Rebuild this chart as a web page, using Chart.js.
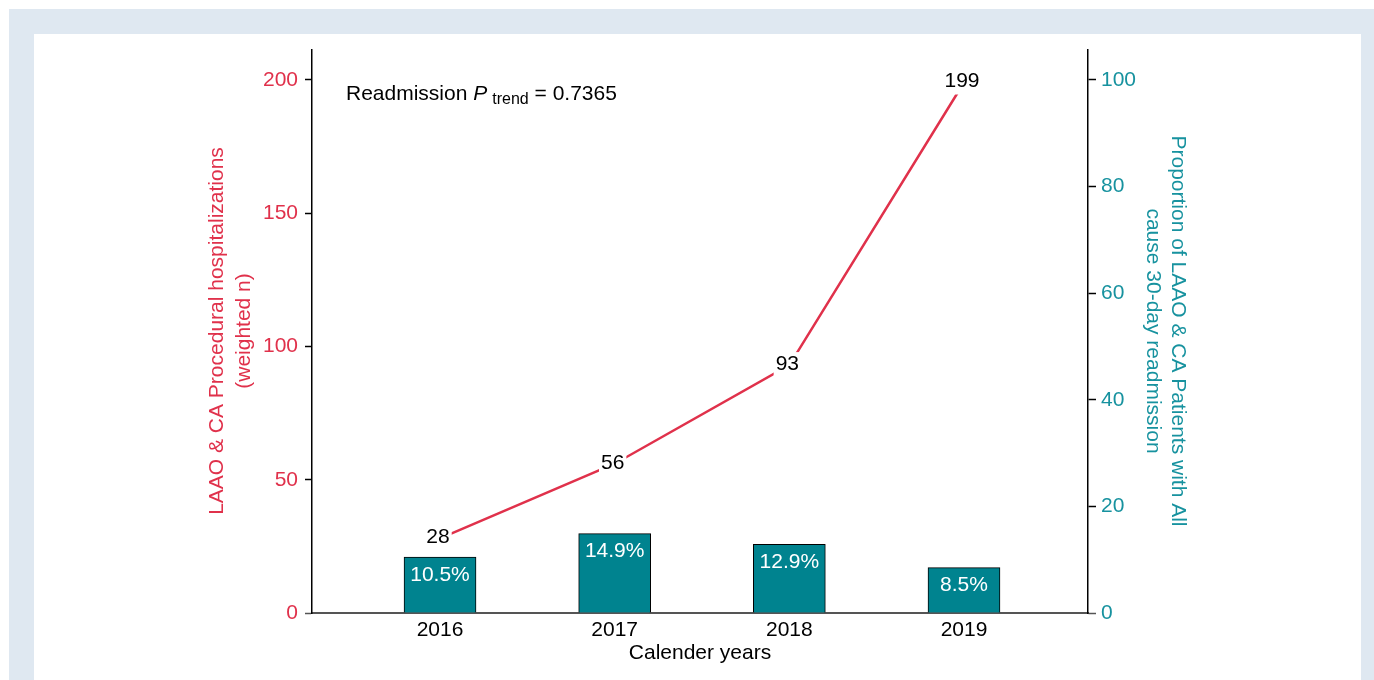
<!DOCTYPE html>
<html>
<head>
<meta charset="utf-8">
<script src="https://cdn.jsdelivr.net/npm/chart.js@4"></script>
<style>
  html,body{margin:0;padding:0;background:#fff;}
  #outer{position:absolute;left:9px;top:9px;width:1365px;height:671px;background:#dfe8f1;}
  #inner{position:absolute;left:34px;top:34px;width:1327px;height:646px;background:#fff;}
  #wrap{position:absolute;left:0;top:0;width:1374px;height:680px;}
</style>
</head>
<body>
<div id="outer"></div>
<div id="inner"></div>
<div id="wrap"><canvas id="c" width="1374" height="680"></canvas></div>
<script>
const years = ['2016', '2017', '2018', '2019'];
const hospitalizations = [28, 56, 93, 199];
const readmissionPct = [10.5, 14.9, 12.9, 8.5];
const leftTitle = ['LAAO & CA Procedural hospitalizations', '(weighted n)'];
const rightTitle = ['Proportion of LAAO & CA Patients with All', 'cause 30-day readmission'];
const xTitle = 'Calender years';

const RED = '#E0314B';
const TEAL = '#17929F';
const BAR = '#00838F';
const FONT = 'Arial, "Liberation Sans", sans-serif';
const FS = 21;

const labelsPlugin = {
  id: 'labels',
  afterDatasetsDraw(chart) {
    const ctx = chart.ctx;
    ctx.save();
    const bm = chart.getDatasetMeta(0);
    ctx.font = FS + 'px ' + FONT;
    ctx.textAlign = 'center';
    ctx.textBaseline = 'middle';
    bm.data.forEach((el, i) => {
      ctx.fillStyle = '#ffffff';
      ctx.fillText(readmissionPct[i].toFixed(1) + '%', el.x, el.y + 18);
    });
    const lm = chart.getDatasetMeta(1);
    lm.data.forEach((el, i) => {
      const t = String(hospitalizations[i]);
      const w = ctx.measureText(t).width;
      const cx = el.x - 2, cy = el.y - 1;
      ctx.fillStyle = '#ffffff';
      ctx.fillRect(cx - w / 2 - 2, cy - 12, w + 4, 25);
      ctx.fillStyle = '#000000';
      ctx.fillText(t, cx, cy);
    });
    ctx.restore();
  },
  afterDraw(chart) {
    const ctx = chart.ctx;
    const a = chart.chartArea;
    ctx.save();
    let x = 346, base = 100;
    ctx.textBaseline = 'alphabetic';
    ctx.textAlign = 'left';
    ctx.fillStyle = '#000';
    ctx.font = FS + 'px ' + FONT;
    ctx.fillText('Readmission ', x, base); x += ctx.measureText('Readmission ').width;
    ctx.font = 'italic ' + FS + 'px ' + FONT;
    ctx.fillText('P', x, base); x += ctx.measureText('P').width + 5;
    ctx.font = '16px ' + FONT;
    ctx.fillText('trend', x, base + 4); x += ctx.measureText('trend').width;
    ctx.font = FS + 'px ' + FONT;
    ctx.fillText(' = 0.7365', x, base);
    ctx.fillStyle = RED;
    ctx.textAlign = 'center';
    ctx.textBaseline = 'middle';
    ctx.save();
    ctx.translate(217, 331);
    ctx.rotate(-Math.PI / 2);
    ctx.fillText(leftTitle[0], 0, 0);
    ctx.fillText(leftTitle[1], 0, 27);
    ctx.restore();
    ctx.fillStyle = TEAL;
    ctx.save();
    ctx.translate(1178, 331);
    ctx.rotate(Math.PI / 2);
    ctx.fillText(rightTitle[0], 0, 0);
    ctx.fillText(rightTitle[1], 0, 25);
    ctx.restore();
    ctx.fillStyle = '#000';
    ctx.fillText(xTitle, (a.left + a.right) / 2, 653);
    ctx.restore();
  }
};

const tickCol = (c) => (c.tick && c.tick.value === 0 ? '#555' : '#000');

new Chart(document.getElementById('c'), {
  type: 'bar',
  data: {
    datasets: [
      {
        type: 'bar',
        data: readmissionPct.map((v, i) => ({ x: i, y: v })),
        yAxisID: 'y1',
        backgroundColor: BAR,
        borderColor: '#000',
        borderWidth: 1,
        borderSkipped: 'bottom',
        barThickness: 72,
        order: 2
      },
      {
        type: 'line',
        data: hospitalizations.map((v, i) => ({ x: i, y: v })),
        yAxisID: 'y',
        borderColor: RED,
        borderWidth: 2.5,
        pointRadius: 0,
        tension: 0,
        order: 1
      }
    ]
  },
  options: {
    responsive: false,
    animation: false,
    layout: { padding: { top: 50, left: 0, right: 0, bottom: 0 } },
    plugins: { legend: { display: false }, tooltip: { enabled: false } },
    scales: {
      x: {
        type: 'linear',
        offset: false,
        min: -0.733,
        max: 3.71,
        afterFit: (s) => { s.height = 67; },
        afterBuildTicks: (s) => { s.ticks = years.map((_, i) => ({ value: i })); },
        ticks: {
          callback: (v) => years[v],
          color: '#000',
          font: { size: FS, family: FONT },
          padding: 5,
          maxRotation: 0,
          autoSkip: false
        },
        grid: { display: false, drawTicks: false, offset: false },
        border: { display: true, color: '#555', width: 2 }
      },
      y: {
        position: 'left',
        min: 0,
        max: 211.2,
        afterFit: (s) => { s.width = 312; },
        ticks: {
          stepSize: 50,
          includeBounds: false,
          color: RED,
          font: { size: FS, family: FONT },
          padding: 7
        },
        grid: { drawOnChartArea: false, tickLength: 7, tickColor: tickCol, tickWidth: 1.5 },
        border: { color: '#000', width: 1.5 }
      },
      y1: {
        position: 'right',
        min: 0,
        max: 105.6,
        afterFit: (s) => { s.width = 286; },
        ticks: {
          stepSize: 20,
          includeBounds: false,
          color: TEAL,
          font: { size: FS, family: FONT },
          padding: 5
        },
        grid: { drawOnChartArea: false, tickLength: 8, tickColor: tickCol, tickWidth: 1.5 },
        border: { color: '#000', width: 1.5 }
      }
    }
  },
  plugins: [labelsPlugin]
});
</script>
</body>
</html>
